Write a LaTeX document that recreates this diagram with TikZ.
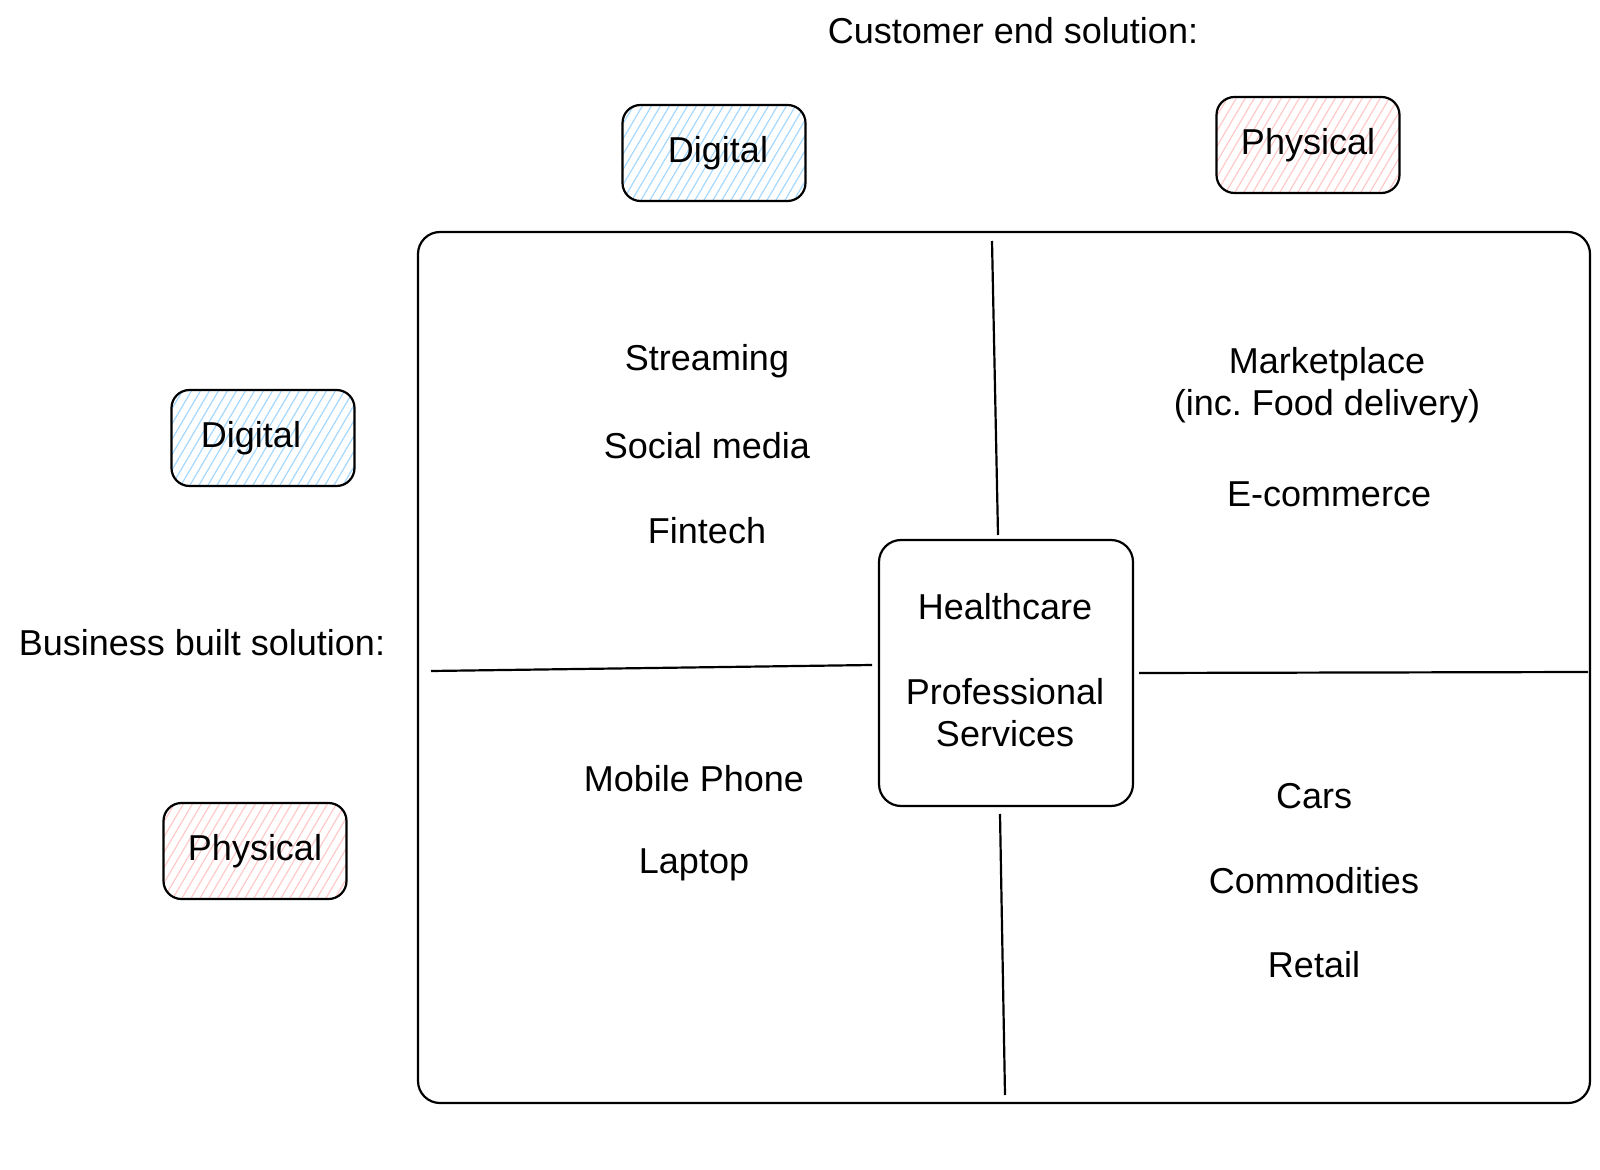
\documentclass[tikz,border=0pt]{standalone}
\usepackage{fontspec}
\setmainfont{Liberation Sans}
\frenchspacing
\begin{document}
\begin{tikzpicture}[x=0.5pt,y=-0.5pt,
  every node/.style={font=\fontsize{18}{21}\selectfont, align=center},
  ink/.style={line width=1.1pt, draw=black},
  hatchbox/.style={ink, rounded corners=9pt, minimum width=91.5pt, minimum height=48pt, inner sep=0pt,
    path picture={\foreach \k in {-14,...,24}{\draw[#1, line width=0.6pt] ([xshift=\k*4.5pt]path picture bounding box.south west) -- ++(40pt,68pt);}}},
  label/.style={inner sep=1pt}
]
\definecolor{hblue}{HTML}{A5D8FF}
\definecolor{hpink}{HTML}{FFC9C9}
\useasboundingbox (0,0) rectangle (1600,1170);

% headers
\node[label] (cust) at (1013,31) {Customer end solution:};
\node[label] (bus) at (202,643) {Business built solution:};

\node[hatchbox=hblue] (tdig) at (714,153) {\hspace*{4pt}Digital};
\node[hatchbox=hpink] (tphy) at (1308,145) {Physical};
\node[hatchbox=hblue] (ldig) at (263,438) {Digital\hspace*{12pt}};
\node[hatchbox=hpink] (lphy) at (255,851) {Physical};

% big frame
\node[ink, rounded corners=11pt, minimum width=586pt, minimum height=435.5pt, inner sep=0pt] (frame) at (1004,667.5) {};

% center box
\node[ink, rounded corners=11pt, minimum width=127pt, minimum height=133pt, inner sep=0pt] (mid) at (1006,673) {};

% dividers
\coordinate (vt1) at (992,241);
\coordinate (vt2) at (998,535);
\coordinate (vb1) at (1000,814);
\coordinate (vb2) at (1005,1095);
\coordinate (hl1) at (431,671);
\coordinate (hl2) at (872,665);
\coordinate (hr1) at (1139,673);
\coordinate (hr2) at (1588,672);
\draw[ink] (vt1) -- (vt2);
\draw[ink] (vb1) -- (vb2);
\draw[ink] (hl1) -- (hl2);
\draw[ink] (hr1) -- (hr2);

% quadrant texts
\node[label] (s1) at (707,361) {Streaming};
\node[label] (s2) at (707,446) {Social media};
\node[label] (s3) at (707,531) {Fintech};
\node[label] (m1) at (1327,385) {Marketplace\\(inc. Food delivery)};
\node[label] (m2) at (1329,494) {E-commerce};
\node[label] (c1) at (1005,607) {Healthcare};
\node[label] (c2) at (1005,713) {Professional\\Services};
\node[label] (p1) at (694,779) {Mobile Phone};
\node[label] (p2) at (694,865) {Laptop};
\node[label] (r1) at (1314,796) {Cars};
\node[label] (r2) at (1314,881) {Commodities};
\node[label] (r3) at (1314,965) {Retail};
\end{tikzpicture}
\end{document}
